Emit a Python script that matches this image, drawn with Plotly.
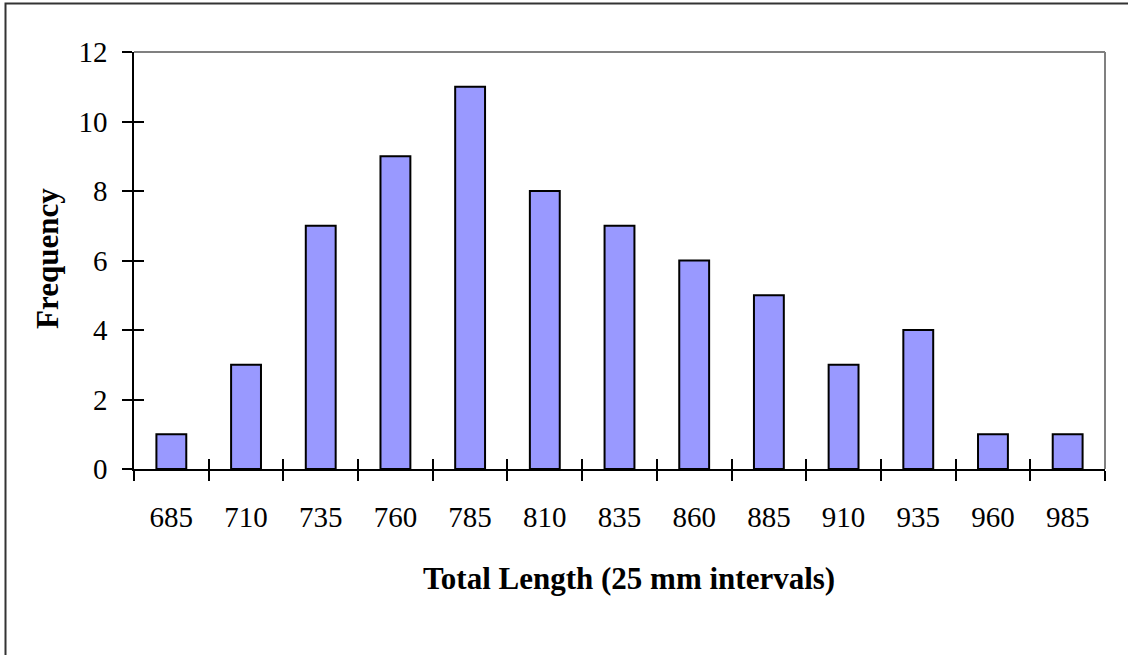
import plotly.graph_objects as go

categories = ["685", "710", "735", "760", "785", "810", "835", "860", "885", "910", "935", "960", "985"]
frequency = [1, 3, 7, 9, 11, 8, 7, 6, 5, 3, 4, 1, 1]
y_ticks = [0, 2, 4, 6, 8, 10, 12]

W, H = 1128, 655
L, R, T, B = 134, 23, 52, 186
pw, ph = W - L - R, H - T - B

def px_x(x):
    return (x - L) / pw

def px_y(y):
    return (H - B - y) / ph

serif = "Liberation Serif, Times New Roman, serif"

fig = go.Figure()
fig.add_trace(go.Bar(
    x=categories, y=frequency,
    marker=dict(color="#9999FF", line=dict(color="black", width=2)),
    hoverinfo="skip",
))
# invisible helper trace for the inside-tick overlay axes
fig.add_trace(go.Scatter(
    x=categories, y=frequency, xaxis="x2", yaxis="y2",
    mode="markers", marker=dict(opacity=0), hoverinfo="skip", showlegend=False,
))

fig.update_layout(
    width=W, height=H,
    margin=dict(l=L, r=R, t=T, b=B),
    paper_bgcolor="white", plot_bgcolor="white",
    showlegend=False,
    bargap=0.6,
    font=dict(family=serif, color="black"),
    xaxis=dict(
        type="category", categoryorder="array", categoryarray=categories,
        range=[-0.5, len(categories) - 0.5],
        tickson="boundaries", ticks="outside", ticklen=10, tickwidth=1.5, tickcolor="black",
        showline=True, linecolor="black", linewidth=1.5,
        showgrid=False, zeroline=False,
        tickfont=dict(family=serif, size=29, color="black"),
        ticklabelstandoff=21,
    ),
    yaxis=dict(
        range=[0, 12], tickvals=y_ticks, ticktext=[str(v) for v in y_ticks],
        ticks="outside", ticklen=10, tickwidth=1.5, tickcolor="black",
        showline=True, linecolor="black", linewidth=1.5,
        showgrid=False, zeroline=False,
        tickfont=dict(family=serif, size=29, color="black"),
        ticklabelstandoff=9,
    ),
    xaxis2=dict(
        type="category", categoryorder="array", categoryarray=categories,
        range=[-0.5, len(categories) - 0.5], overlaying="x", side="bottom",
        tickson="boundaries", ticks="inside", ticklen=10, tickwidth=1.5, tickcolor="black",
        showticklabels=False, showline=False, showgrid=False, zeroline=False,
    ),
    yaxis2=dict(
        range=[0, 12], tickvals=y_ticks, overlaying="y", side="left",
        ticks="inside", ticklen=10, tickwidth=1.5, tickcolor="black",
        showticklabels=False, showline=False, showgrid=False, zeroline=False,
    ),
    shapes=[
        dict(type="line", xref="paper", yref="paper", x0=0, x1=1, y0=1, y1=1,
             line=dict(color="#808080", width=2)),
        dict(type="line", xref="paper", yref="paper", x0=1, x1=1, y0=0, y1=1,
             line=dict(color="#808080", width=2)),
        dict(type="rect", xref="paper", yref="paper",
             x0=px_x(5.5), x1=px_x(W + 10), y0=px_y(H + 10), y1=px_y(3.5),
             line=dict(color="#333333", width=2), fillcolor="rgba(0,0,0,0)"),
    ],
    annotations=[
        dict(text="<b>Total Length (25 mm intervals)</b>", xref="paper", yref="paper",
             x=px_x(629), y=px_y(578), showarrow=False, xanchor="center", yanchor="middle",
             font=dict(family=serif, size=31, color="black")),
        dict(text="<b>Frequency</b>", xref="paper", yref="paper",
             x=px_x(47), y=px_y(259), showarrow=False, xanchor="center", yanchor="middle",
             textangle=-90, font=dict(family=serif, size=31, color="black")),
    ],
)

fig.write_html(
    "out.html",
    config={"displayModeBar": False},
    post_script="document.body.style.margin='0';document.body.style.padding='0';",
)
